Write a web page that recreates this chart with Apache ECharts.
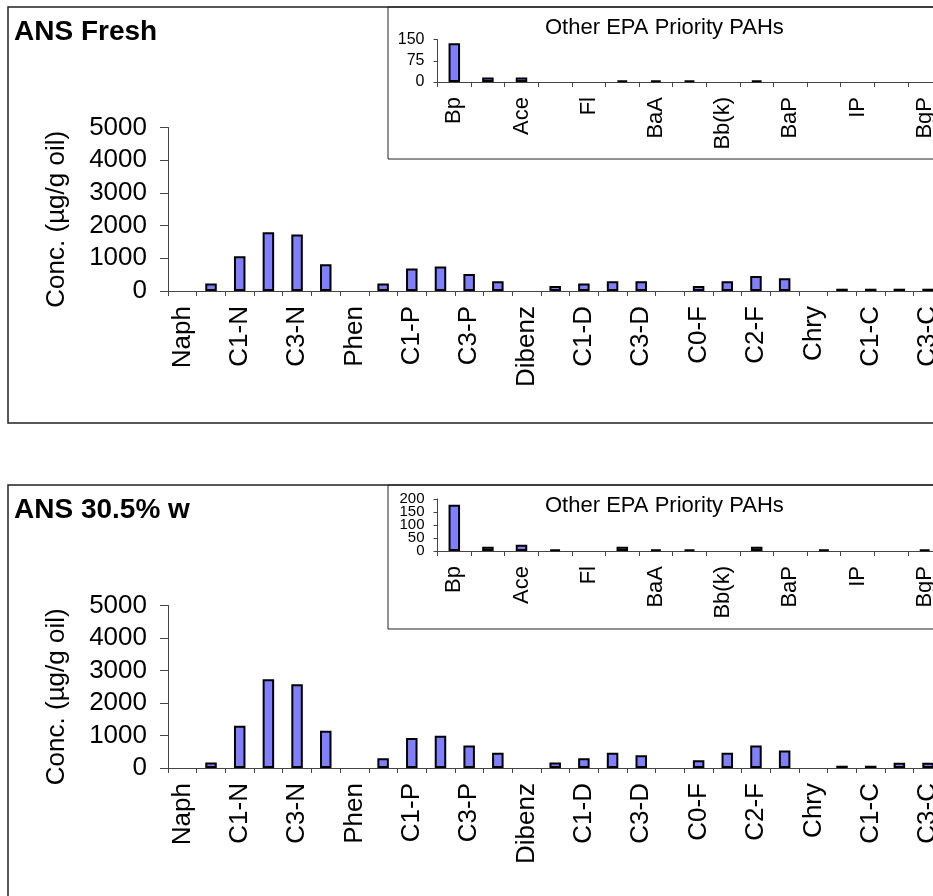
<!DOCTYPE html>
<html>
<head>
<meta charset="utf-8">
<title>ANS PAH profiles</title>
<script src="https://cdn.jsdelivr.net/npm/echarts@6/dist/echarts.min.js"></script>
<style>
  html, body { margin: 0; padding: 0; background: #fff; }
  #chart { width: 933px; height: 896px; }
</style>
</head>
<body>
<div id="chart"></div>
<script>
// Alkylated PAH homologue groups (main panels)
const mainCategories = ['Naph', 'C0-N', 'C1-N', 'C2-N', 'C3-N', 'C4-N',
  'Phen', 'C0-P', 'C1-P', 'C2-P', 'C3-P', 'C4-P',
  'Dibenz', 'C0-D', 'C1-D', 'C2-D', 'C3-D',
  'Fluor', 'C0-F', 'C1-F', 'C2-F', 'C3-F',
  'Chry', 'C0-C', 'C1-C', 'C2-C', 'C3-C'];

// Concentrations, µg/g oil
const freshMain = [null, 230, 1060, 1800, 1730, 820,
  null, 230, 690, 750, 520, 300,
  null, 150, 230, 300, 300,
  null, 150, 300, 460, 390,
  null, 70, 70, 70, 70];
const weatheredMain = [null, 170, 1300, 2730, 2580, 1150,
  null, 300, 920, 990, 690, 470,
  null, 170, 300, 470, 390,
  null, 240, 470, 690, 540,
  null, 70, 70, 160, 160];

// Other EPA priority PAHs (inset panels)
const insetCategories = ['Bp', 'Acl', 'Ace', 'An', 'Fl', 'Py', 'BaA', 'Bb(b)',
  'Bb(k)', 'BeP', 'BaP', 'Per', 'IP', 'DA', 'BgP'];
const freshInset = [137, 16, 16, null, null, 6, 6, 6, null, 6, null, null, null, null, null];
const weatheredInset = [178, 16, 24, 6, null, 16, 6, 6, null, 16, null, 6, null, null, 6];

// Value-axis ticks
const mainTicks = [0, 1000, 2000, 3000, 4000, 5000];
const freshInsetTicks = [0, 75, 150];
const weatheredInsetTicks = [0, 50, 100, 150, 200];

const panelTitles = ['ANS Fresh', 'ANS 30.5% w'];
const insetTitle = 'Other EPA Priority PAHs';
const yAxisTitle = 'Conc. (µg/g oil)';

const FONT = '"Liberation Sans", Arial, sans-serif';
const AXIS_COLOR = '#444';
const BAR_FILL = '#8080ff';

const chart = echarts.init(document.getElementById('chart'), null, { renderer: 'canvas' });

// vertical offset between the two stacked figures
const DY = 478;

const grids = [
  { left: 168, top: 127.5, width: 774.4, height: 163.5 },
  { left: 168, top: 127.5 + DY, width: 774.4, height: 162.5 },
  { left: 437.5, top: 39.7, width: 504, height: 42.3 },
  { left: 437.5, top: 499, width: 504, height: 52 }
].map(g => Object.assign({ containLabel: false, outerBoundsMode: 'none' }, g));

const plainNumber = v => String(v);
const last = a => a[a.length - 1];

function mainX(gridIndex) {
  return {
    type: 'category', gridIndex, data: mainCategories, boundaryGap: true,
    axisLine: { show: true, lineStyle: { color: AXIS_COLOR, width: 1 } },
    axisTick: { show: true, interval: 0, alignWithLabel: false, length: 5, inside: false,
      lineStyle: { color: AXIS_COLOR, width: 1 } },
    axisLabel: { interval: 1, rotate: 90, margin: 15, fontSize: 26, color: '#000',
      fontFamily: FONT, hideOverlap: false },
    splitLine: { show: false }
  };
}
function mainY(gridIndex) {
  return {
    type: 'value', gridIndex, position: 'left', min: mainTicks[0], max: last(mainTicks),
    interval: mainTicks[1] - mainTicks[0],
    name: yAxisTitle, nameLocation: 'middle', nameGap: 98,
    nameTextStyle: { fontSize: 26, color: '#000', fontFamily: FONT, padding: [0, 20, 0, 0] },
    axisLine: { show: true, lineStyle: { color: AXIS_COLOR, width: 1 } },
    axisTick: { show: true, length: 8, lineStyle: { color: AXIS_COLOR, width: 1 } },
    axisLabel: { margin: 21, fontSize: 26, color: '#000', fontFamily: FONT,
      formatter: plainNumber, showMinLabel: true, showMaxLabel: true },
    splitLine: { show: false }
  };
}
function insetX(gridIndex) {
  return {
    type: 'category', gridIndex, data: insetCategories, boundaryGap: true,
    axisLine: { show: true, lineStyle: { color: AXIS_COLOR, width: 1 } },
    axisTick: { show: true, interval: 0, alignWithLabel: false, length: 5,
      lineStyle: { color: AXIS_COLOR, width: 1 } },
    axisLabel: { interval: 1, rotate: 90, margin: 15, fontSize: 22, color: '#000',
      fontFamily: FONT, hideOverlap: false },
    splitLine: { show: false }
  };
}
// Value axis for an inset; `shown` selects which of the tick values carry a label
function insetY(gridIndex, ticks, shown, size, drawLine) {
  return {
    type: 'value', gridIndex, position: 'left', offset: 0,
    min: ticks[0], max: last(ticks), interval: ticks[1] - ticks[0],
    axisLine: { show: drawLine, lineStyle: { color: AXIS_COLOR, width: 1 } },
    axisTick: { show: true, length: 4, customValues: shown,
      lineStyle: { color: AXIS_COLOR, width: 1 } },
    axisLabel: { customValues: shown, showMinLabel: true, showMaxLabel: true,
      margin: 13, fontSize: size, lineHeight: 10, padding: 0,
      color: '#000', fontFamily: FONT, formatter: plainNumber, hideOverlap: false },
    splitLine: { show: false }
  };
}
function bars(xIdx, yIdx, data) {
  return {
    type: 'bar', xAxisIndex: xIdx, yAxisIndex: yIdx, data, barWidth: 11.5,
    itemStyle: { color: BAR_FILL, borderColor: '#000', borderWidth: 2 },
    emphasis: { disabled: true }, animation: false
  };
}

function box(x, y, w, h, lw) {
  return { type: 'rect', shape: { x, y, width: w, height: h }, silent: true, z: -10,
    style: { fill: 'transparent', stroke: '#222', lineWidth: lw } };
}
function label(text, x, y, size, weight) {
  return { type: 'text', x, y, silent: true,
    style: { text, fill: '#000', font: `${weight} ${size}px ${FONT}`, textVerticalAlign: 'top' } };
}

// the densely packed inset scale is split over two coincident axes so every label shows
const evenTicks = weatheredInsetTicks.filter((v, i) => i % 2 === 0);
const oddTicks = weatheredInsetTicks.filter((v, i) => i % 2 === 1);

const option = {
  animation: false,
  backgroundColor: '#fff',
  grid: grids,
  xAxis: [mainX(0), mainX(1), insetX(2), insetX(3)],
  yAxis: [mainY(0), mainY(1),
    insetY(2, freshInsetTicks, freshInsetTicks, 16, true),
    insetY(3, weatheredInsetTicks, evenTicks, 15, true),
    insetY(3, weatheredInsetTicks, oddTicks, 15, false)],
  series: [bars(0, 0, freshMain), bars(1, 1, weatheredMain),
    bars(2, 2, freshInset), bars(3, 3, weatheredInset)],
  graphic: [
    box(8, 7, 960, 416, 1.5),
    box(8, 7 + DY, 960, 430, 1.5),
    box(388, 7, 600, 152, 1),
    box(388, 7 + DY, 600, 144, 1),
    label(panelTitles[0], 14, 18, 28, 'bold'),
    label(panelTitles[1], 14, 18 + DY, 28, 'bold'),
    label(insetTitle, 545, 17, 22, 'normal'),
    label(insetTitle, 545, 17 + DY, 22, 'normal')
  ]
};
chart.setOption(option);
</script>
</body>
</html>
